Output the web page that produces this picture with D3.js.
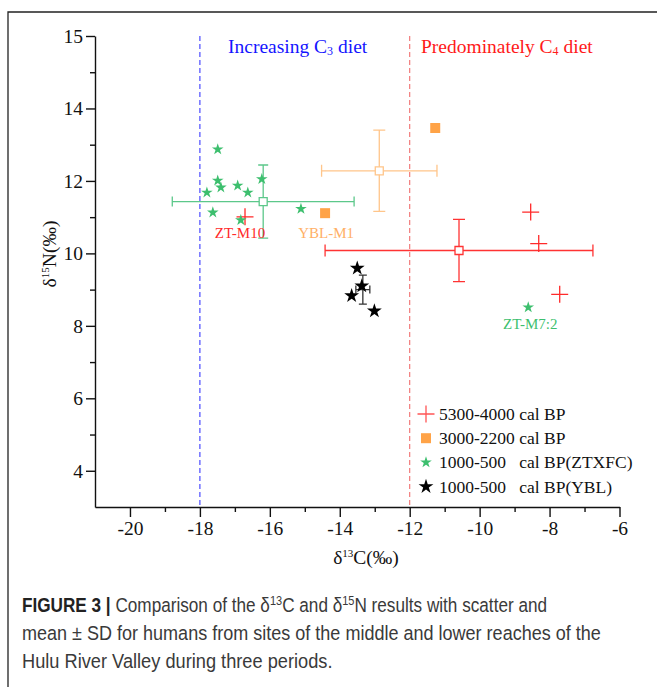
<!DOCTYPE html>
<html>
<head>
<meta charset="utf-8">
<script src="https://cdn.jsdelivr.net/npm/d3@7"></script>
<style>
  body { margin: 0; background: #fff; }
  svg { display: block; }
</style>
</head>
<body>
<script>
// scatter values (d13C, d15N)
const redX = [-16.71, -8.54, -8.31, -7.71]
const redY = [11.01, 11.14, 10.27, 8.87]
const orangeX = [-11.27, -14.42]
const orangeY = [13.46, 11.11]
const greenX = [-17.49, -17.49, -17.4, -17.8, -16.92, -16.63, -16.23, -17.63, -16.83, -15.11, -8.61]
const greenY = [12.87, 12.01, 11.82, 11.68, 11.87, 11.68, 12.05, 11.13, 10.92, 11.23, 8.51]
const blackX = [-13.5, -13.37, -13.66, -13.01]
const blackY = [9.59, 9.10, 8.83, 8.41]

// mean ± SD per group
const groupNames = ['red', 'orange', 'green', 'black']
const meanX = [-10.59, -12.87, -16.19, -13.34]
const meanY = [10.08, 12.28, 11.43, 9.0]
const sdX = [3.83, 1.65, 2.6, 0.2]
const sdY = [0.86, 1.12, 1.01, 0.4]

// ticks
const xTicks = [-20, -18, -16, -14, -12, -10, -8, -6]
const xMinor = [-19, -17, -15, -13, -11, -9, -7]
const yTicks = [4, 6, 8, 10, 12, 14, 16]
const yTickLabels = ['4', '6', '8', '10', '12', '14', '15']
const yMinor = [5, 7, 9, 11, 13, 15]

const legendLabels = ['5300-4000 cal BP', '3000-2200 cal BP', '1000-500   cal BP(ZTXFC)', '1000-500   cal BP(YBL)']
const captionLines = [
  'Comparison of the δ13C and δ15N results with scatter and',
  'mean ± SD for humans from sites of the middle and lower reaches of the',
  'Hulu River Valley during three periods.'
]

const width = 657
const height = 687
const serif = '"Liberation Serif", "Times New Roman", serif'
const sans = '"Liberation Sans", Arial, sans-serif'

const colors = {
  red: '#ff2a2a', redBar: '#ff3333',
  orange: '#ffa347', orangeBar: '#ffc58a',
  green: '#3dbf6e', greenBar: '#5cc88a',
  black: '#000', blackBar: '#333'
}

const svg = d3.select('body').append('svg')
  .attr('width', width)
  .attr('height', height)

// figure frame
svg.append('path')
  .attr('d', `M8,${height} V12 H${width}`)
  .attr('fill', 'none')
  .attr('stroke', '#222')
  .attr('stroke-width', 1.3)

const xScale = d3.scaleLinear().domain([-21, -6]).range([95, 619.5])
const yScale = d3.scaleLinear().domain([3, 16]).range([507, 36])

// axes
svg.append('g')
  .attr('transform', `translate(0,${yScale(3)})`)
  .call(d3.axisBottom(xScale).tickValues(xTicks).tickSize(10).tickSizeOuter(0).tickPadding(4)
    .tickFormat(d => String(d)))
svg.append('g')
  .attr('transform', `translate(0,${yScale(3)})`)
  .call(d3.axisBottom(xScale).tickValues(xMinor).tickSize(5).tickFormat(''))
  .select('.domain').remove()

svg.append('g')
  .attr('transform', `translate(${xScale(-21)},0)`)
  .call(d3.axisLeft(yScale).tickValues(yTicks).tickSize(9).tickSizeOuter(0).tickPadding(3)
    .tickFormat((d, i) => yTickLabels[i]))
svg.append('g')
  .attr('transform', `translate(${xScale(-21)},0)`)
  .call(d3.axisLeft(yScale).tickValues(yMinor).tickSize(5).tickFormat(''))
  .select('.domain').remove()

svg.selectAll('.domain, .tick line').attr('stroke', '#111').attr('stroke-width', 1.4)
svg.selectAll('.tick text')
  .style('font-family', serif)
  .style('font-size', '19.5px')
  .attr('fill', '#111')

// axis titles
const xTitle = svg.append('text')
  .attr('x', 366)
  .attr('y', 564)
  .attr('text-anchor', 'middle')
  .attr('font-family', serif)
  .attr('font-size', 19.5)
  .attr('fill', '#111')
xTitle.append('tspan').text('δ')
xTitle.append('tspan').text('13').attr('font-size', 11).attr('dy', -7)
xTitle.append('tspan').text('C(‰)').attr('dy', 7)

const yTitle = svg.append('text')
  .attr('transform', 'translate(56,254) rotate(-90)')
  .attr('text-anchor', 'middle')
  .attr('font-family', serif)
  .attr('font-size', 19.5)
  .attr('fill', '#111')
yTitle.append('tspan').text('δ')
yTitle.append('tspan').text('15').attr('font-size', 11).attr('dy', -7)
yTitle.append('tspan').text('N(‰)').attr('dy', 7)

// diet boundaries
const bounds = [{ v: -18, c: '#3a3aff' }, { v: -12, c: '#f07070' }]
svg.selectAll('.bound')
  .data(bounds)
  .enter()
  .append('line')
  .attr('x1', d => xScale(d.v))
  .attr('x2', d => xScale(d.v))
  .attr('y1', yScale(16))
  .attr('y2', yScale(3))
  .attr('stroke', d => d.c)
  .attr('stroke-width', 1.1)
  .attr('stroke-dasharray', '5,3')

const dietText = (x, color, pre, sub, post) => {
  const t = svg.append('text')
    .attr('x', x)
    .attr('y', 53)
    .attr('font-family', serif)
    .attr('font-size', 19.5)
    .attr('fill', color)
  t.append('tspan').text(pre)
  t.append('tspan').text(sub).attr('font-size', 12).attr('dy', 2)
  t.append('tspan').text(post).attr('dy', -2)
}
dietText(228, '#1515ff', 'Increasing C', '3', ' diet')
dietText(421, '#ff1a1a', 'Predominately C', '4', ' diet')

// mean ± SD error bars
const bars = svg.append('g')
groupNames.forEach((g, i) => {
  const cx = xScale(meanX[i])
  const cy = yScale(meanY[i])
  const x0 = xScale(meanX[i] - sdX[i])
  const x1 = xScale(meanX[i] + sdX[i])
  const y0 = yScale(meanY[i] + sdY[i])
  const y1 = yScale(meanY[i] - sdY[i])
  const cap = g === 'black' ? 4 : (g === 'green' ? 5 : 6)
  const d = `M${x0},${cy}H${x1}M${cx},${y0}V${y1}` +
    `M${x0},${cy - cap}V${cy + cap}M${x1},${cy - cap}V${cy + cap}` +
    `M${cx - cap},${y0}H${cx + cap}M${cx - cap},${y1}H${cx + cap}`
  bars.append('path')
    .attr('d', d)
    .attr('fill', 'none')
    .attr('stroke', colors[g + 'Bar'])
    .attr('stroke-width', 1.3)
  if (g !== 'black') {
    bars.append('path')
      .attr('d', d3.symbol(d3.symbolSquare, 64)())
      .attr('transform', `translate(${cx},${cy})`)
      .attr('fill', '#fff')
      .attr('stroke', colors[g + 'Bar'])
      .attr('stroke-width', 1.3)
  }
})

// point markers
const plusPath = 'M-8.5,0H8.5M0,-8.5V8.5'
const greenStar = d3.symbol(d3.symbolStar, 42)()
const blackStar = d3.symbol(d3.symbolStar, 68)()
const squarePath = d3.symbol(d3.symbolSquare, 100)()

const marks = svg.append('g')

marks.selectAll('.red')
  .data(d3.zip(redX, redY))
  .enter()
  .append('path')
  .attr('d', plusPath)
  .attr('transform', d => `translate(${xScale(d[0])},${yScale(d[1])})`)
  .attr('stroke', colors.red)
  .attr('stroke-width', 1.3)

marks.selectAll('.orange')
  .data(d3.zip(orangeX, orangeY))
  .enter()
  .append('path')
  .attr('d', squarePath)
  .attr('transform', d => `translate(${xScale(d[0])},${yScale(d[1])})`)
  .attr('fill', colors.orange)

marks.selectAll('.green')
  .data(d3.zip(greenX, greenY))
  .enter()
  .append('path')
  .attr('d', greenStar)
  .attr('transform', d => `translate(${xScale(d[0])},${yScale(d[1])})`)
  .attr('fill', colors.green)

marks.selectAll('.black')
  .data(d3.zip(blackX, blackY))
  .enter()
  .append('path')
  .attr('d', blackStar)
  .attr('transform', d => `translate(${xScale(d[0])},${yScale(d[1])})`)
  .attr('fill', colors.black)

// point labels
const pointLabels = [
  { text: 'ZT-M10', x: redX[0], y: redY[0], c: colors.red, dx: -5, dy: 21 },
  { text: 'YBL-M1', x: orangeX[1], y: orangeY[1], c: '#ffb066', dx: 1, dy: 25 },
  { text: 'ZT-M7:2', x: greenX[10], y: greenY[10], c: colors.green, dx: 2, dy: 22 }
]
svg.selectAll('.plabel')
  .data(pointLabels)
  .enter()
  .append('text')
  .attr('x', d => xScale(d.x) + d.dx)
  .attr('y', d => yScale(d.y) + d.dy)
  .attr('text-anchor', 'middle')
  .attr('font-family', serif)
  .attr('font-size', 15)
  .attr('fill', d => d.c)
  .text(d => d.text)

// legend
const legend = svg.append('g').attr('transform', 'translate(426,414)')
const legendMarks = [plusPath, d3.symbol(d3.symbolSquare, 100)(), greenStar, blackStar]
const legendStyles = [
  { fill: 'none', stroke: '#ff5555' },
  { fill: colors.orange, stroke: 'none' },
  { fill: colors.green, stroke: 'none' },
  { fill: colors.black, stroke: 'none' }
]
legendLabels.forEach((label, i) => {
  const row = legend.append('g').attr('transform', `translate(0,${i * 24.2})`)
  row.append('path')
    .attr('d', legendMarks[i])
    .attr('fill', legendStyles[i].fill)
    .attr('stroke', legendStyles[i].stroke)
    .attr('stroke-width', 1.3)
  row.append('text')
    .attr('x', 13)
    .attr('y', 6)
    .attr('font-family', serif)
    .attr('font-size', 17.5)
    .attr('fill', '#111')
    .style('white-space', 'pre')
    .text(label)
})

// caption (narrow face imitated with a horizontal squeeze per line)
const captionLine = (y, squeeze) => svg.append('g')
  .attr('transform', `translate(22,${y}) scale(${squeeze},1)`)
  .attr('font-family', sans)
  .attr('font-size', 19.5)
  .attr('fill', '#3a3a3a')
  .append('text')

const c1 = captionLine(612, 0.88)
c1.append('tspan').text('FIGURE 3 | ').attr('font-weight', 'bold').attr('fill', '#222')
const parts = captionLines[0].split(/(13|15)/)
parts.forEach(p => {
  if (p === '13' || p === '15') {
    c1.append('tspan').text(p).attr('font-size', 12.5).attr('dy', -7)
  } else {
    const t = c1.append('tspan').text(p)
    if (c1.selectAll('tspan').size() > 2) t.attr('dy', 7)
  }
})
captionLine(640, 0.925).text(captionLines[1])
captionLine(668, 0.935).text(captionLines[2])
</script>
</body>
</html>
